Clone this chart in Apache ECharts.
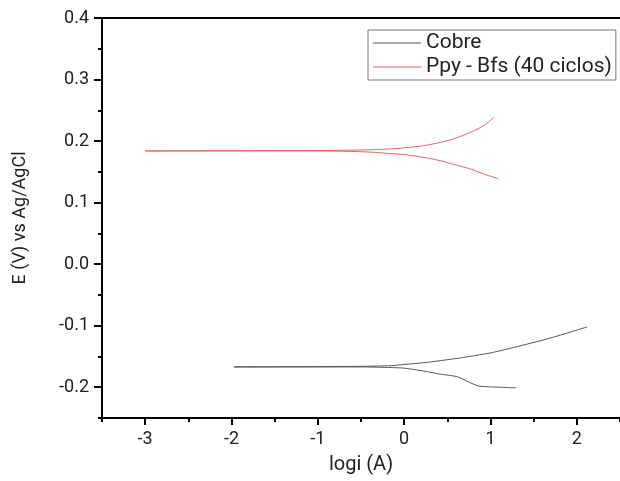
<!DOCTYPE html>
<html>
<head>
<meta charset="utf-8">
<script src="https://cdn.jsdelivr.net/npm/echarts@6/dist/echarts.min.js"></script>
<style>html,body{margin:0;padding:0;background:#fff;}#c{width:620px;height:481px;}</style>
</head>
<body>
<div id="c"></div>
<script>
// Cobre: out along lower branch to the left end, then back along upper branch
const cobreX = [1.30, 1.01, 0.86, 0.74, 0.62, 0.43, 0.24, 0.0, -0.15, -0.5, -1.0, -1.97, -1.0, -0.5, -0.15, 0.0, 0.24, 0.62, 0.89, 1.01, 1.28, 1.67, 2.12];
const cobreY = [-0.201, -0.1995, -0.198, -0.191, -0.183, -0.179, -0.174, -0.169, -0.168, -0.167, -0.167, -0.167, -0.1665, -0.166, -0.165, -0.163, -0.160, -0.153, -0.147, -0.144, -0.135, -0.121, -0.102];
// Ppy - Bfs (40 ciclos)
const ppyX = [1.09, 0.93, 0.78, 0.58, 0.39, 0.20, 0.0, -0.19, -0.38, -0.7, -1.5, -3.0, -1.5, -0.7, -0.38, -0.19, 0.0, 0.20, 0.39, 0.58, 0.78, 0.93, 1.04];
const ppyY = [0.139, 0.146, 0.154, 0.162, 0.169, 0.174, 0.178, 0.180, 0.182, 0.1835, 0.184, 0.184, 0.1845, 0.185, 0.186, 0.187, 0.189, 0.192, 0.197, 0.204, 0.215, 0.226, 0.2385];
const xMajor = [-3, -2, -1, 0, 1, 2];
const xMinor = [-3.5, -2.5, -1.5, -0.5, 0.5, 1.5, 2.5];
const yMajor = [-0.2, -0.1, 0.0, 0.1, 0.2, 0.3, 0.4];
const yMinor = [-0.25, -0.15, -0.05, 0.05, 0.15, 0.25, 0.35];

const font = 'Roboto';
const chart = echarts.init(document.getElementById('c'));
const zip = (xs, ys) => xs.map((x, i) => [x, ys[i]]);
const axisLine = {show: true, onZero: false, lineStyle: {color: '#000', width: 2}};
chart.setOption({
  animation: false,
  textStyle: {fontFamily: font},
  grid: {left: 102, right: 0, top: 18, bottom: 63, containLabel: false},
  legend: {
    orient: 'vertical', left: 368, top: 30,
    padding: [2, 4, 2, 5], itemGap: 2,
    itemWidth: 48, itemHeight: 1, icon: 'rect',
    backgroundColor: '#fff', borderColor: '#777', borderWidth: 1,
    textStyle: {fontFamily: font, fontSize: 21, color: '#222', lineHeight: 22},
    data: ['Cobre', 'Ppy - Bfs (40 ciclos)']
  },
  xAxis: [
    {type: 'value', min: -3.5, max: 2.5, position: 'bottom',
     name: 'logi (A)', nameLocation: 'middle', nameGap: 37,
     nameTextStyle: {fontFamily: font, fontSize: 20, color: '#222'},
     axisLine: axisLine, splitLine: {show: false},
     axisTick: {show: true, customValues: xMajor, length: 7, lineStyle: {color: '#000', width: 2}},
     axisLabel: {customValues: xMajor, margin: 12, fontFamily: font, fontSize: 18, color: '#222',
       formatter: v => String(v)}},
    {type: 'value', min: -3.5, max: 2.5, position: 'bottom',
     axisLine: {show: false, onZero: false}, splitLine: {show: false},
     axisTick: {show: true, customValues: xMinor, length: 4, lineStyle: {color: '#000', width: 2}},
     axisLabel: {show: false}},
    {type: 'value', min: -3.5, max: 2.5, position: 'top',
     axisLine: axisLine, splitLine: {show: false}, axisTick: {show: false}, axisLabel: {show: false}}
  ],
  yAxis: [
    {type: 'value', min: -0.25, max: 0.4, position: 'left',
     name: 'E (V) vs Ag/AgCl', nameLocation: 'middle', nameGap: 73,
     nameTextStyle: {fontFamily: font, fontSize: 18, color: '#222'},
     axisLine: axisLine, splitLine: {show: false},
     axisTick: {show: true, customValues: yMajor, length: 8, lineStyle: {color: '#000', width: 2}},
     axisLabel: {customValues: yMajor, margin: 13, fontFamily: font, fontSize: 18, color: '#222',
       formatter: v => v.toFixed(1)}},
    {type: 'value', min: -0.25, max: 0.4, position: 'left',
     axisLine: {show: false, onZero: false}, splitLine: {show: false},
     axisTick: {show: true, customValues: yMinor, length: 4, lineStyle: {color: '#000', width: 2}},
     axisLabel: {show: false}}
  ],
  series: [
    {name: 'Cobre', type: 'line', xAxisIndex: 0, yAxisIndex: 0, symbol: 'none', smooth: 0.2,
     data: zip(cobreX, cobreY), lineStyle: {color: '#555', width: 1}, itemStyle: {color: '#555'}},
    {name: 'Ppy - Bfs (40 ciclos)', type: 'line', xAxisIndex: 0, yAxisIndex: 0, symbol: 'none', smooth: 0.3,
     data: zip(ppyX, ppyY), lineStyle: {color: '#ef6060', width: 1}, itemStyle: {color: '#ef6060'}}
  ]
});
</script>
</body>
</html>
